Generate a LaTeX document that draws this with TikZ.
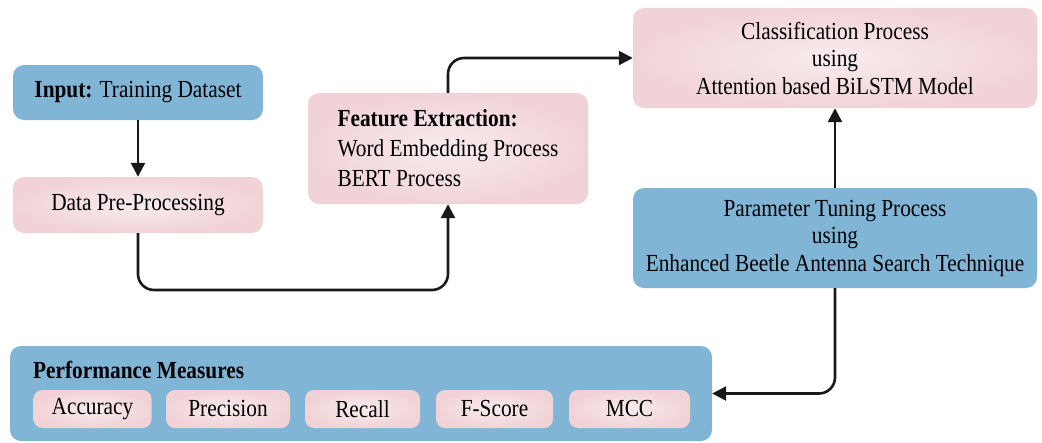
\documentclass[tikz,border=0pt]{standalone}
\usepackage{fontspec}
\setmainfont[FakeStretch=0.87]{Liberation Serif}
\usetikzlibrary{arrows.meta,calc}
\definecolor{boxblue}{HTML}{80B5D6}
\definecolor{boxpink}{HTML}{F1D3D7}
\definecolor{pinkcore}{HTML}{F8ECEE}
\tikzset{
  base/.style={rounded corners=11pt, inner sep=0pt, align=center,
    font=\fontsize{24.5}{27.5}\selectfont},
  bluebox/.style={base, fill=boxblue},
  pinkbox/.style={base, inner color=pinkcore, outer color=boxpink},
  metric/.style={base, rounded corners=9pt, inner color=pinkcore, outer color=boxpink,
    minimum width=118pt, minimum height=38pt},
  flow/.style={line width=2.6pt, draw=black!90, rounded corners=16pt,
    -{Triangle[length=14pt,width=14pt]}}
}
\begin{document}
\begin{tikzpicture}[x=1pt,y=-1pt]
\useasboundingbox[fill=white] (0,0) rectangle (1042,442);

% process boxes
\node[bluebox, minimum width=250pt, minimum height=55pt] (in) at (138,92.5)
  {\textbf{Input:} Training Dataset};
\node[pinkbox, minimum width=250pt, minimum height=56pt] (pre) at (138,205)
  {Data Pre-Processing};
\node[pinkbox, align=left, minimum width=280pt, minimum height=111pt,
  font=\fontsize{24.5}{30}\selectfont] (feat) at (448,148.5)
  {\textbf{Feature Extraction:}\\Word Embedding Process\\BERT Process};
\node[pinkbox, minimum width=404pt, minimum height=100pt] (cls) at (835,58)
  {Classification Process\\using\\Attention based BiLSTM Model};
\node[bluebox, minimum width=404pt, minimum height=100pt] (par) at (835,238)
  {Parameter Tuning Process\\using\\Enhanced Beetle Antenna Search Technique};

% evaluation panel
\node[bluebox, minimum width=702pt, minimum height=95pt] (perf) at (361,393.5) {};
\node[base, anchor=west, font=\fontsize{24.5}{27}\selectfont\bfseries] (ptitle) at (33,370)
  {Performance Measures};
\node[metric] (acc) at (92.5,409) {Accuracy};
\node[metric, minimum width=124pt] (prec) at (228,409) {Precision};
\node[metric, minimum width=115pt] (rec) at (362.5,409) {Recall};
\node[metric, minimum width=117pt] (fs) at (494.5,409) {F-Score};
\node[metric, minimum width=121pt] (mcc) at (629.5,409) {MCC};

% connectors
\coordinate (low) at (300,290);
\draw[flow] (in.south) -- (pre.north);
\draw[flow] (pre.south) |- (low) -| (feat.south);
\draw[flow] (feat.north) |- (cls.west);
\draw[flow] (par.north) -- (cls.south);
\draw[flow] (par.south) |- (perf.east);
\end{tikzpicture}
\end{document}
